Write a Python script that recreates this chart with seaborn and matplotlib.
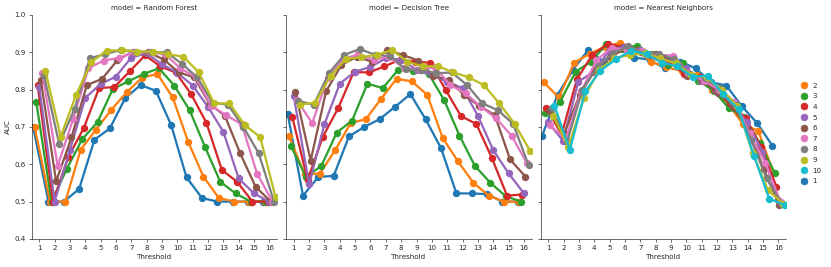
import numpy as np
import pandas as pd
import matplotlib
matplotlib.use("Agg")
import matplotlib.pyplot as plt
from matplotlib.lines import Line2D
import seaborn as sns

thresholds = list(range(1, 17))
models = ["Random Forest", "Decision Tree", "Nearest Neighbors"]

# Random Forest (hue levels 1-9)
rf_1 = [0.700, 0.500, 0.500, 0.534, 0.666, 0.696, 0.777, 0.812, 0.797, 0.705, 0.565, 0.510, 0.500, 0.500, 0.500, 0.500]
rf_2 = [0.700, 0.500, 0.500, 0.639, 0.693, 0.746, 0.793, 0.832, 0.842, 0.779, 0.661, 0.567, 0.510, 0.500, 0.500, 0.500]
rf_3 = [0.768, 0.500, 0.588, 0.667, 0.713, 0.802, 0.822, 0.842, 0.857, 0.811, 0.745, 0.647, 0.553, 0.522, 0.500, 0.500]
rf_4 = [0.812, 0.500, 0.620, 0.697, 0.804, 0.807, 0.849, 0.892, 0.862, 0.846, 0.788, 0.711, 0.585, 0.553, 0.500, 0.500]
rf_5 = [0.808, 0.500, 0.638, 0.778, 0.815, 0.835, 0.886, 0.897, 0.868, 0.845, 0.811, 0.754, 0.687, 0.562, 0.522, 0.500]
rf_6 = [0.826, 0.554, 0.672, 0.812, 0.829, 0.879, 0.902, 0.900, 0.881, 0.846, 0.833, 0.762, 0.730, 0.629, 0.540, 0.500]
rf_7 = [0.845, 0.596, 0.720, 0.857, 0.878, 0.885, 0.900, 0.900, 0.895, 0.857, 0.833, 0.757, 0.731, 0.707, 0.575, 0.500]
rf_8 = [0.840, 0.654, 0.748, 0.884, 0.895, 0.906, 0.902, 0.900, 0.900, 0.869, 0.833, 0.765, 0.760, 0.700, 0.630, 0.500]
rf_9 = [0.851, 0.674, 0.786, 0.874, 0.904, 0.906, 0.902, 0.902, 0.895, 0.888, 0.846, 0.763, 0.763, 0.705, 0.673, 0.512]

# Decision Tree (hue levels 1-9)
dt_1 = [0.736, 0.516, 0.566, 0.569, 0.675, 0.700, 0.721, 0.754, 0.788, 0.720, 0.643, 0.522, 0.522, 0.520, 0.500, 0.500]
dt_2 = [0.675, 0.573, 0.575, 0.638, 0.710, 0.721, 0.776, 0.829, 0.822, 0.786, 0.671, 0.608, 0.551, 0.516, 0.500, 0.500]
dt_3 = [0.650, 0.566, 0.596, 0.685, 0.717, 0.816, 0.804, 0.853, 0.851, 0.842, 0.772, 0.677, 0.596, 0.551, 0.515, 0.500]
dt_4 = [0.727, 0.558, 0.674, 0.751, 0.847, 0.846, 0.862, 0.880, 0.875, 0.872, 0.799, 0.729, 0.708, 0.618, 0.516, 0.519]
dt_5 = [0.782, 0.546, 0.708, 0.816, 0.848, 0.861, 0.884, 0.880, 0.853, 0.839, 0.821, 0.804, 0.730, 0.638, 0.576, 0.522]
dt_6 = [0.794, 0.610, 0.795, 0.866, 0.888, 0.875, 0.906, 0.893, 0.878, 0.837, 0.826, 0.786, 0.756, 0.732, 0.613, 0.567]
dt_7 = [0.772, 0.710, 0.830, 0.881, 0.895, 0.880, 0.888, 0.857, 0.853, 0.860, 0.812, 0.790, 0.754, 0.723, 0.676, 0.603]
dt_8 = [0.770, 0.759, 0.845, 0.893, 0.909, 0.893, 0.890, 0.854, 0.853, 0.844, 0.846, 0.812, 0.763, 0.745, 0.708, 0.598]
dt_9 = [0.760, 0.765, 0.837, 0.882, 0.887, 0.893, 0.906, 0.875, 0.862, 0.863, 0.846, 0.833, 0.812, 0.763, 0.708, 0.636]

# Nearest Neighbors (hue levels 1-10)
nn_1 = [0.677, 0.786, 0.853, 0.906, 0.875, 0.915, 0.886, 0.880, 0.857, 0.875, 0.857, 0.820, 0.811, 0.756, 0.711, 0.650]
nn_2 = [0.820, 0.779, 0.872, 0.896, 0.915, 0.926, 0.908, 0.875, 0.860, 0.850, 0.840, 0.800, 0.763, 0.708, 0.689, 0.576]
nn_3 = [0.737, 0.768, 0.848, 0.875, 0.921, 0.910, 0.918, 0.895, 0.866, 0.870, 0.824, 0.797, 0.750, 0.728, 0.656, 0.576]
nn_4 = [0.752, 0.680, 0.828, 0.893, 0.922, 0.915, 0.906, 0.893, 0.875, 0.842, 0.833, 0.800, 0.763, 0.723, 0.647, 0.540]
nn_5 = [0.714, 0.663, 0.821, 0.848, 0.904, 0.915, 0.906, 0.890, 0.880, 0.857, 0.824, 0.800, 0.763, 0.712, 0.634, 0.504]
nn_6 = [0.744, 0.683, 0.786, 0.853, 0.888, 0.910, 0.902, 0.896, 0.880, 0.837, 0.826, 0.792, 0.753, 0.692, 0.587, 0.491]
nn_7 = [0.704, 0.667, 0.795, 0.879, 0.912, 0.906, 0.904, 0.893, 0.891, 0.844, 0.824, 0.800, 0.768, 0.683, 0.604, 0.500]
nn_8 = [0.750, 0.660, 0.800, 0.862, 0.897, 0.917, 0.897, 0.896, 0.881, 0.842, 0.830, 0.804, 0.759, 0.665, 0.562, 0.494]
nn_9 = [0.730, 0.647, 0.777, 0.853, 0.884, 0.893, 0.897, 0.884, 0.870, 0.840, 0.833, 0.800, 0.756, 0.631, 0.531, 0.494]
nn_10 = [0.757, 0.638, 0.795, 0.851, 0.881, 0.904, 0.895, 0.872, 0.862, 0.835, 0.837, 0.788, 0.747, 0.623, 0.508, 0.491]

series = {
    "Random Forest": [rf_1, rf_2, rf_3, rf_4, rf_5, rf_6, rf_7, rf_8, rf_9],
    "Decision Tree": [dt_1, dt_2, dt_3, dt_4, dt_5, dt_6, dt_7, dt_8, dt_9],
    "Nearest Neighbors": [nn_1, nn_2, nn_3, nn_4, nn_5, nn_6, nn_7, nn_8, nn_9, nn_10],
}
legend_order = ["2", "3", "4", "5", "6", "7", "8", "9", "10", "1"]

rows = []
for m in models:
    for i, vals in enumerate(series[m]):
        for t, v in zip(thresholds, vals):
            rows.append({"model": m, "k": str(i + 1), "Threshold": t, "AUC": v})
df = pd.DataFrame(rows)

tab10 = sns.color_palette("tab10", 10)
palette = {str(i + 1): tab10[i] for i in range(10)}

FS = 8.6
sns.set_style("ticks")
plt.rcParams["font.family"] = ["DejaVu Sans"]
plt.rcParams["font.size"] = FS
plt.rcParams["xtick.labelsize"] = FS
plt.rcParams["ytick.labelsize"] = FS
plt.rcParams["axes.labelsize"] = FS
plt.rcParams["axes.titlesize"] = FS
plt.rcParams["legend.fontsize"] = FS

fig, axes = plt.subplots(1, 3, figsize=(13.85, 4.45), sharey=True)
for ax, m in zip(axes, models):
    sub = df[df["model"] == m]
    levels = [str(i + 1) for i in range(len(series[m]))]
    sns.pointplot(data=sub, x="Threshold", y="AUC", hue="k", hue_order=levels,
                  palette=palette, dodge=0.8, errorbar=None, ax=ax, legend=False)
    ax.set_title(f"model = {m}", fontsize=FS)
    ax.set_ylim(0.4, 1.0)
    ax.set_yticks([0.4, 0.5, 0.6, 0.7, 0.8, 0.9, 1.0])
    ax.set_xlabel("Threshold")
    ax.set_ylabel("")
    sns.despine(ax=ax)
axes[0].set_ylabel("AUC")

handles = [Line2D([], [], linestyle="none", marker="o", markersize=8,
                  color=palette[l]) for l in legend_order]
fig.legend(handles, legend_order, loc="center left", bbox_to_anchor=(0.955, 0.5),
           frameon=False, handlelength=1.0, handletextpad=0.7, labelspacing=0.64)

fig.subplots_adjust(left=0.038, right=0.946, top=0.944, bottom=0.105, wspace=0.037)
fig.savefig("out.png", dpi=60)
